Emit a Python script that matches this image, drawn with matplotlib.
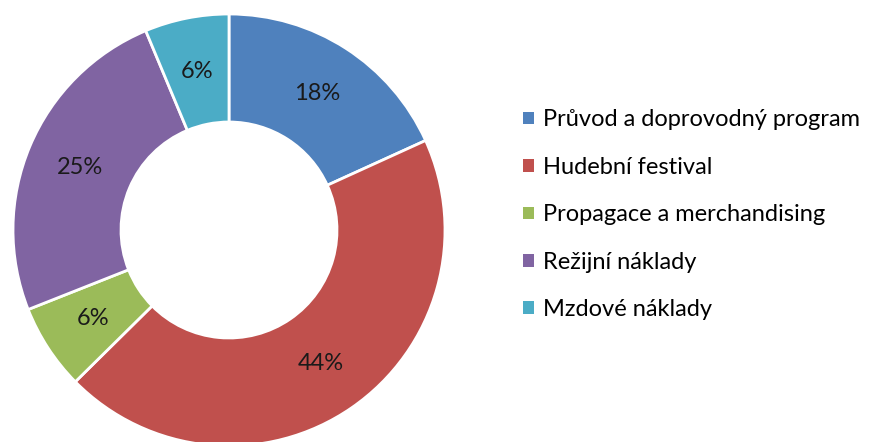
import matplotlib
matplotlib.use("Agg")
import matplotlib.pyplot as plt
from matplotlib.patches import Patch

# ─── Data ────────────────────────────────────────────────────────────────────
categories = [
    "Průvod a doprovodný program",
    "Hudební festival",
    "Propagace a merchandising",
    "Režijní náklady",
    "Mzdové náklady",
]
shares = [18.2, 44.4, 6.4, 24.7, 6.3]
colors = ["#4F81BD", "#C0504D", "#9BBB59", "#8064A2", "#4BACC6"]

plt.rcParams["font.family"] = ["Lato", "DejaVu Sans"]

fig = plt.figure(figsize=(8.78, 4.42), dpi=100)
W, H = 878, 442
cx, cy, r = 229, 230, 216
ax = fig.add_axes([(cx - r) / W, (H - cy - r) / H, 2 * r / W, 2 * r / H])

wedges, texts = ax.pie(
    shares, colors=colors, startangle=90, counterclock=False,
    radius=1.0, labels=[f"{v:.0f}%" for v in shares], labeldistance=0.75,
    wedgeprops=dict(width=0.5, edgecolor="white", linewidth=2),
    textprops=dict(fontsize=17, color="#1a1a1a", ha="center", va="center"),
)
ax.set_xlim(-1, 1)
ax.set_ylim(-1, 1)
ax.set_aspect("equal")
ax.axis("off")

handles = [Patch(facecolor=c, edgecolor="none") for c in colors]
fig.legend(handles, categories, loc="upper left",
           bbox_to_anchor=(514 / W, 1 - 100 / H), frameon=False,
           fontsize=17, handlelength=0.45, handleheight=0.45,
           handletextpad=0.38, labelspacing=1.12, borderaxespad=0)

fig.savefig("out.png", dpi=100)
